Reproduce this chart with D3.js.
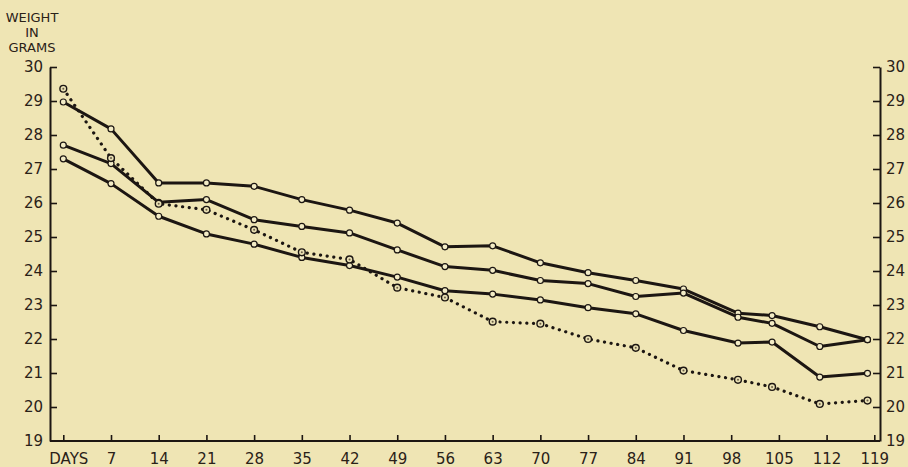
<!DOCTYPE html>
<html>
<head>
<meta charset="utf-8">
<script src="https://cdn.jsdelivr.net/npm/d3@7"></script>
<style>
  html, body { margin: 0; padding: 0; background: #efe5b4; }
  svg { display: block; }
  text { font-family: "DejaVu Sans", sans-serif; fill: #2a2118; }
</style>
</head>
<body>
<svg id="chart" width="908" height="467"></svg>
<script>
// ---- data ----
const days = [0, 7, 14, 21, 28, 35, 42, 49, 56, 63, 70, 77, 84, 91, 99, 104, 111, 118];
const seriesA = [28.97, 28.18, 26.59, 26.59, 26.49, 26.10, 25.79, 25.41, 24.71, 24.74, 24.24, 23.95, 23.72, 23.47, 22.76, 22.69, 22.36, 21.98];
const seriesB = [27.70, 27.16, 26.02, 26.10, 25.51, 25.31, 25.12, 24.62, 24.13, 24.02, 23.72, 23.63, 23.25, 23.35, 22.64, 22.46, 21.78, 21.98];
const seriesC = [27.30, 26.57, 25.61, 25.09, 24.79, 24.40, 24.16, 23.82, 23.42, 23.32, 23.15, 22.92, 22.74, 22.25, 21.88, 21.91, 20.88, 20.99];
const seriesDotted = [29.36, 27.32, 25.98, 25.80, 25.21, 24.55, 24.34, 23.51, 23.22, 22.51, 22.45, 22.00, 21.74, 21.07, 20.80, 20.59, 20.09, 20.19];
const xTickValues = [0, 7, 14, 21, 28, 35, 42, 49, 56, 63, 70, 77, 84, 91, 98, 105, 112, 119];
const xTickLabels = ["DAYS", "7", "14", "21", "28", "35", "42", "49", "56", "63", "70", "77", "84", "91", "98", "105", "112", "119"];
const yTickValues = [19, 20, 21, 22, 23, 24, 25, 26, 27, 28, 29, 30];
const yTitle = ["WEIGHT", "IN", "GRAMS"];

// ---- layout ----
const ink = "#1c1612";
const leftX = 50, rightX = 880, bottomY = 441, topY = 67;
const svg = d3.select("#chart");

const x = d3.scaleLinear().domain([0, 119]).range([63.3, 874.3]);
const y = d3.scaleLinear().domain([19, 30]).range([bottomY, topY]);

// bottom axis
const xAxis = d3.axisBottom(x)
  .tickValues(xTickValues)
  .tickFormat((d, i) => xTickLabels[i])
  .tickSizeInner(-6).tickSizeOuter(0).tickPadding(12);
const gx = svg.append("g").attr("transform", `translate(0,${bottomY})`).call(xAxis);
gx.select(".domain").remove();
gx.selectAll(".tick line").attr("stroke", ink).attr("stroke-width", 1.6);
gx.selectAll(".tick text").attr("font-size", 15).attr("fill", "#2a2118")
  .attr("dx", (d) => d === 0 ? 5 : 0);
svg.append("line").attr("x1", leftX).attr("x2", rightX)
  .attr("y1", bottomY).attr("y2", bottomY)
  .attr("stroke", ink).attr("stroke-width", 2);

// left axis
const yAxisL = d3.axisLeft(y).tickValues(yTickValues).tickFormat(d3.format("d"))
  .tickSizeInner(-7).tickSizeOuter(0).tickPadding(7);
const gl = svg.append("g").attr("transform", `translate(${leftX},0)`).call(yAxisL);
gl.select(".domain").attr("stroke", ink).attr("stroke-width", 2);
gl.selectAll(".tick line").attr("stroke", ink).attr("stroke-width", 1.6);
gl.selectAll(".tick text").attr("font-size", 15).attr("fill", "#2a2118");
gl.selectAll(".tick").filter(d => d === 19).select("line").remove();

// right axis
const yAxisR = d3.axisRight(y).tickValues(yTickValues).tickFormat(d3.format("d"))
  .tickSizeInner(-7).tickSizeOuter(0).tickPadding(6);
const gr = svg.append("g").attr("transform", `translate(${rightX},0)`).call(yAxisR);
gr.select(".domain").attr("stroke", ink).attr("stroke-width", 2);
gr.selectAll(".tick line").attr("stroke", ink).attr("stroke-width", 1.6);
gr.selectAll(".tick text").attr("font-size", 15).attr("fill", "#2a2118");
gr.selectAll(".tick").filter(d => d === 19).select("line").remove();

// y title
svg.append("g").selectAll("text").data(yTitle).join("text")
  .attr("x", 32).attr("y", (d, i) => 22 + i * 15)
  .attr("text-anchor", "middle").attr("font-size", 13)
  .text(d => d);

// lines
const line = d3.line().x(d => x(d[0])).y(d => y(d[1]));
const solids = [seriesA, seriesB, seriesC];
solids.forEach(s => {
  const pts = days.map((d, i) => [d, s[i]]);
  svg.append("path").datum(pts).attr("d", line)
    .attr("fill", "none").attr("stroke", ink).attr("stroke-width", 3)
    .attr("stroke-linejoin", "round");
});
const dpts = days.map((d, i) => [d, seriesDotted[i]]);
svg.append("path").datum(dpts).attr("d", line)
  .attr("fill", "none").attr("stroke", ink).attr("stroke-width", 3.2)
  .attr("stroke-linecap", "round").attr("stroke-dasharray", "0.1 6.6");

// markers
solids.forEach(s => {
  svg.append("g").selectAll("circle").data(days.map((d, i) => [d, s[i]])).join("circle")
    .attr("cx", d => x(d[0])).attr("cy", d => y(d[1])).attr("r", 3)
    .attr("fill", "#f3ecc6").attr("stroke", ink).attr("stroke-width", 1.2);
});
svg.append("g").selectAll("circle").data(dpts).join("circle")
  .attr("cx", d => x(d[0])).attr("cy", d => y(d[1])).attr("r", 3.4)
  .attr("fill", "#e8dfb2").attr("stroke", ink).attr("stroke-width", 1.4);
svg.append("g").selectAll("circle").data(dpts).join("circle")
  .attr("cx", d => x(d[0])).attr("cy", d => y(d[1])).attr("r", 1)
  .attr("fill", "#6b5f48");
</script>
</body>
</html>
